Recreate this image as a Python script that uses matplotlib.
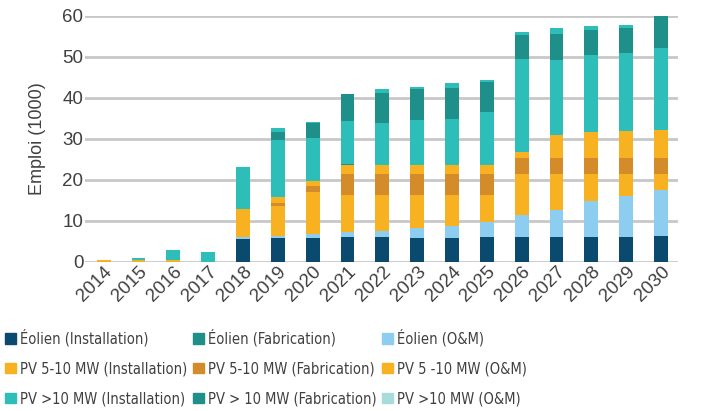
import numpy as np
import matplotlib.pyplot as plt
from matplotlib.patches import Patch
from matplotlib import font_manager

# years on the x axis
years = [str(y) for y in range(2014, 2031)]

# jobs (thousands), one list per series
eol_install = [0, 0, 0, 0, 5.5, 5.7, 5.7, 6.0, 6.0, 5.8, 5.8, 6.0, 6.0, 6.0, 6.0, 6.0, 6.2]
eol_om      = [0, 0, 0, 0, 0.5, 0.5, 1.0, 1.2, 1.6, 2.4, 2.9, 3.8, 5.3, 6.6, 8.7, 10.1, 11.2]
pv510_inst  = [0.4, 0.4, 0.4, 0, 6.8, 7.4, 10.2, 9.2, 8.8, 8.2, 7.7, 6.6, 10.2, 8.9, 6.8, 5.4, 4.1]
pv510_fab   = [0, 0, 0, 0, 0, 0.7, 1.5, 5.1, 5.1, 5.1, 5.1, 5.1, 3.7, 3.7, 3.7, 3.7, 3.7]
pv510_om    = [0, 0, 0, 0, 0, 1.5, 1.3, 2.1, 2.0, 2.0, 2.0, 2.0, 1.6, 5.6, 6.4, 6.6, 6.9]
pv10_fab    = [0, 0, 0, 0, 0, 0, 0, 0.2, 0, 0, 0, 0, 0, 0, 0, 0, 0]
pv10_inst   = [0, 0.5, 2.5, 2.4, 10.2, 13.8, 10.4, 10.6, 10.4, 11.1, 11.4, 12.9, 22.6, 18.3, 18.8, 19.0, 19.9]
eol_fab     = [0, 0, 0, 0, 0, 2.0, 3.8, 6.4, 7.3, 7.4, 7.4, 7.5, 5.8, 6.3, 6.1, 6.2, 8.0]
pv10_om     = [0, 0, 0, 0, 0, 1.0, 0.2, 0, 0.8, 0.5, 1.3, 0.5, 0.9, 1.6, 0.9, 0.7, 0]

c_navy = '#0B4A6F'
c_dteal = '#1F8F8A'
c_lblue = '#8CCDF0'
c_orange = '#F8B120'
c_brown = '#D48C2B'
c_teal = '#2DBEB9'
c_lteal = '#A8DCDC'

# stacking order, bottom to top
stack = [
    (eol_install, c_navy),
    (eol_om, c_lblue),
    (pv510_inst, c_orange),
    (pv510_fab, c_brown),
    (pv510_om, c_orange),
    (pv10_fab, c_dteal),
    (pv10_inst, c_teal),
    (eol_fab, c_dteal),
    (pv10_om, c_teal),
]

plt.rcParams['font.family'] = ['Liberation Sans', 'DejaVu Sans']

fig = plt.figure(figsize=(7.13, 4.11), dpi=100)
ax = fig.add_axes([0.119, 0.363, 0.832, 0.599])

x = np.arange(len(years))
bottom = np.zeros(len(years))
for vals, col in stack:
    vals = np.array(vals, dtype=float)
    ax.bar(x, vals, width=0.4, bottom=bottom, color=col, linewidth=0, zorder=3)
    bottom += vals

ax.set_ylim(0, 60)
ax.set_xlim(-0.54, 16.49)
ax.set_yticks(range(0, 61, 10))
ax.yaxis.grid(True, color='#C8C8C8', linewidth=2, zorder=0)
ax.set_axisbelow(True)
for s in ax.spines.values():
    s.set_visible(False)
ax.tick_params(length=0, labelsize=13.5, colors='#404040', pad=1)
ax.set_xticks(x)
ax.set_xticklabels(years, rotation=45, ha='right', rotation_mode='anchor')
ax.set_ylabel('Emploi (1000)', fontsize=13, color='#404040', labelpad=12)

# condensed face for the legend
leg_font = font_manager.FontProperties(family=['DejaVu Sans'], stretch='condensed', size=10.5)

handles = [
    Patch(color=c_navy, label='Éolien (Installation)'),
    Patch(color=c_orange, label='PV 5-10 MW (Installation)'),
    Patch(color=c_teal, label='PV >10 MW (Installation)'),
    Patch(color=c_dteal, label='Éolien (Fabrication)'),
    Patch(color=c_brown, label='PV 5-10 MW (Fabrication)'),
    Patch(color=c_dteal, label='PV > 10 MW (Fabrication)'),
    Patch(color=c_lblue, label='Éolien (O&M)'),
    Patch(color=c_orange, label='PV 5 -10 MW (O&M)'),
    Patch(color=c_lteal, label='PV >10 MW (O&M)'),
]
fig.legend(handles=handles, ncol=3, loc='upper left', bbox_to_anchor=(0.007, 0.2),
           frameon=False, borderpad=0, borderaxespad=0, handlelength=0.75, handleheight=0.75,
           handletextpad=0.3, columnspacing=0.35, labelspacing=1.02,
           prop=leg_font, labelcolor='#404040')

plt.savefig('out.png', dpi=100)
